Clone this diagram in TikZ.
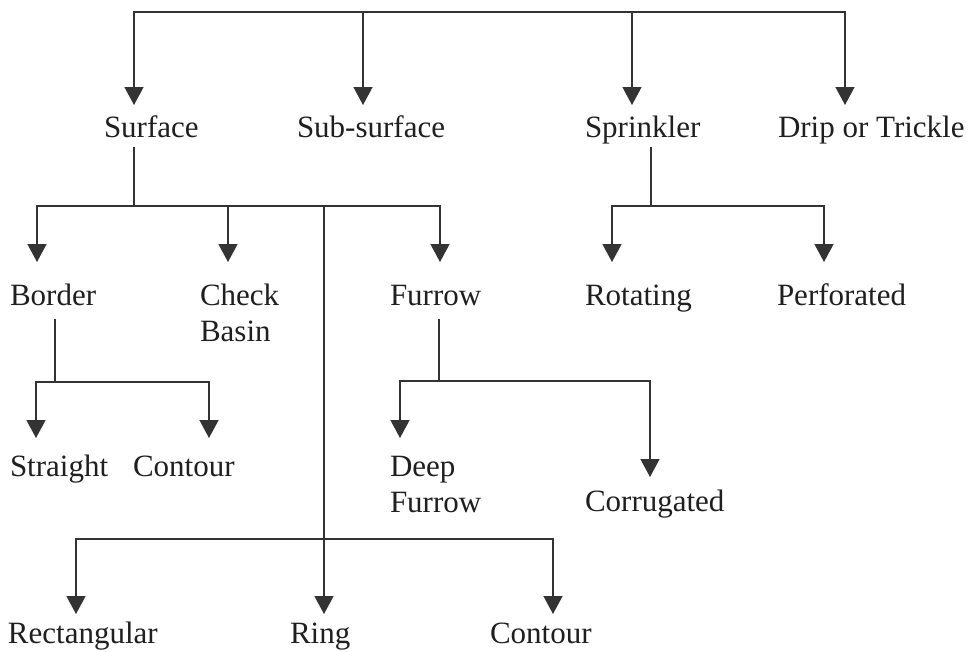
\documentclass[tikz,border=0pt]{standalone}
\usepackage{fontspec}
\setmainfont{Liberation Serif}
\usetikzlibrary{arrows.meta}

\tikzset{
  lbl/.style={font=\fontsize{31}{36}\selectfont, inner sep=0pt, outer sep=0pt,
              anchor=base west, text height=21pt, text depth=7pt, text=black!88},
  ln/.style={line width=1.4pt, draw=black!80, line cap=rect},
  arr/.style={ln, -{Triangle[width=19pt,length=18pt]}},
}
\newcommand{\twolines}[2]{\begin{tabular}[t]{@{}l@{}}#1\\#2\end{tabular}}

\begin{document}
\begin{tikzpicture}[x=1pt, y=-1pt]
  \useasboundingbox[fill=white] (0,0) rectangle (972,651);

  % ---- labels ----
  \node[lbl] (surf)   at (104,137) {Surface};
  \node[lbl] (subs)   at (297,137) {Sub-surface};
  \node[lbl] (sprk)   at (585,137) {Sprinkler};
  \node[lbl] (drip)   at (778,137) {Drip or Trickle};

  \node[lbl] (bord)   at (10,305)  {Border};
  \node[lbl] (check)  at (200,305) {\twolines{Check}{Basin}};
  \node[lbl] (furr)   at (390,305) {Furrow};
  \node[lbl] (rot)    at (585,305) {Rotating};
  \node[lbl] (perf)   at (777,305) {Perforated};

  \node[lbl] (strt)   at (10,476)  {Straight};
  \node[lbl] (bcont)  at (133,476) {Contour};
  \node[lbl] (deep)   at (390,476) {\twolines{Deep}{Furrow}};
  \node[lbl] (corr)   at (585,511) {Corrugated};

  \node[lbl] (rect)   at (8,643)   {Rectangular};
  \node[lbl] (ring)   at (290,643) {Ring};
  \node[lbl] (rcont)  at (490,643) {Contour};

  % ---- junction points ----
  \coordinate (r1) at (134,12);
  \coordinate (r2) at (363,12);
  \coordinate (r3) at (632,12);
  \coordinate (r4) at (845,12);

  \coordinate (sj)  at (134,206);
  \coordinate (s1)  at (37,206);
  \coordinate (s2)  at (228,206);
  \coordinate (s3)  at (324,206);
  \coordinate (s4)  at (440,206);

  \coordinate (pj)  at (651,206);
  \coordinate (p1)  at (612,206);
  \coordinate (p2)  at (824,206);

  \coordinate (bj)  at (55,382);
  \coordinate (b1)  at (36,382);
  \coordinate (b2)  at (209,382);

  \coordinate (fj)  at (439,381);
  \coordinate (f1)  at (400,381);
  \coordinate (f2)  at (650,381);

  \coordinate (gj)  at (324,539);
  \coordinate (g1)  at (76,539);
  \coordinate (g2)  at (553,539);

  % ---- top level ----
  \draw[ln] (r1) -- (r4);
  \draw[arr, shorten >=11pt] (r1) -- (r1 |- surf.north);
  \draw[arr, shorten >=11pt] (r2) -- (r2 |- subs.north);
  \draw[arr, shorten >=11pt] (r3) -- (r3 |- sprk.north);
  \draw[arr, shorten >=11pt] (r4) -- (r4 |- drip.north);

  % ---- surface methods ----
  \draw[ln, shorten <=4pt] (sj |- surf.south) -- (sj);
  \draw[ln] (s1) -- (s4);
  \draw[arr, shorten >=22pt] (s1) -- (s1 |- bord.north);
  \draw[arr, shorten >=22pt] (s2) -- (s2 |- check.north);
  \draw[arr, shorten >=22pt] (s4) -- (s4 |- furr.north);

  % ---- sprinkler types ----
  \draw[ln, shorten <=4pt] (pj |- sprk.south) -- (pj);
  \draw[ln] (p1) -- (p2);
  \draw[arr, shorten >=22pt] (p1) -- (p1 |- rot.north);
  \draw[arr, shorten >=22pt] (p2) -- (p2 |- perf.north);

  % ---- border types ----
  \draw[ln, shorten <=8pt] (bj |- bord.south) -- (bj);
  \draw[ln] (b1) -- (b2);
  \draw[arr, shorten >=17pt] (b1) -- (b1 |- strt.north);
  \draw[arr, shorten >=17pt] (b2) -- (b2 |- bcont.north);

  % ---- furrow types ----
  \draw[ln, shorten <=8pt] (fj |- furr.south) -- (fj);
  \draw[ln] (f1) -- (f2);
  \draw[arr, shorten >=17pt] (f1) -- (f1 |- deep.north);
  \draw[arr, shorten >=13pt] (f2) -- (f2 |- corr.north);

  % ---- basin types ----
  \draw[ln] (s3) -- (gj);
  \draw[ln] (g1) -- (g2);
  \draw[arr, shorten >=8pt] (g1) -- (g1 |- rect.north);
  \draw[arr, shorten >=8pt] (gj) -- (gj |- ring.north);
  \draw[arr, shorten >=8pt] (g2) -- (g2 |- rcont.north);
\end{tikzpicture}
\end{document}
